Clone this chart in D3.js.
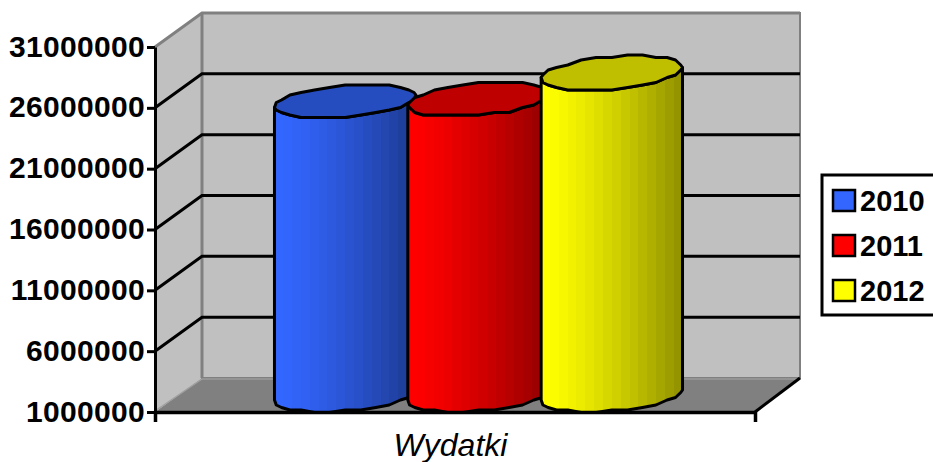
<!DOCTYPE html>
<html>
<head>
<meta charset="utf-8">
<script src="https://cdn.jsdelivr.net/npm/d3@7"></script>
<style>
    html, body { margin: 0; background: #fff; }
    svg { display: block; font-family: "Liberation Sans", Arial, sans-serif; }
</style>
</head>
<body>
<svg id="chart" width="933" height="462"></svg>
<script>
const categories = ['Wydatki'];
const years = ['2010', '2011', '2012'];
const wydatki = [25160000, 25300000, 27460000];
const yTicks = [1000000, 6000000, 11000000, 16000000, 21000000, 26000000, 31000000];
const baseColors = ['#3366ff', '#ff0000', '#ffff00'];

const WIDTH = 933, HEIGHT = 462;
const PLOT = {left: 155, right: 755, top: 47, bottom: 412};
const DEPTH = {x: 47, y: 34};

const svg = d3.select('#chart');
const defs = svg.append('defs');

const yScale = d3.scaleLinear()
    .domain([yTicks[0], yTicks[yTicks.length - 1]])
    .range([PLOT.bottom, PLOT.top]);

const xOuter = d3.scalePoint()
    .domain(categories)
    .range([PLOT.left, PLOT.right])
    .padding(0.5);

const xBar = d3.scaleBand()
    .domain(years)
    .range([xOuter('Wydatki') - 200, xOuter('Wydatki') + 200]);

// walls and floor
const poly = pts => 'M' + pts.map(p => p.join(',')).join('L') + 'Z';
const { left: L, right: R, top: T, bottom: B } = PLOT;

svg.append('path')
    .attr('d', poly([[L, T], [L + DEPTH.x, T - DEPTH.y], [L + DEPTH.x, B - DEPTH.y], [L, B]]))
    .attr('fill', '#c0c0c0');
svg.append('rect')
    .attr('x', L + DEPTH.x).attr('y', T - DEPTH.y)
    .attr('width', R - L - 2).attr('height', B - T)
    .attr('fill', '#c0c0c0')
    .attr('stroke', '#808080').attr('stroke-width', 2);
svg.append('path')
    .attr('d', poly([[L, B], [L + DEPTH.x, B - DEPTH.y], [R + DEPTH.x - 2, B - DEPTH.y], [R, B]]))
    .attr('fill', '#808080');

// grey edges of the box
const edge = (pts, w) => svg.append('path')
    .attr('d', 'M' + pts.map(p => p.join(',')).join('L'))
    .attr('fill', 'none').attr('stroke', '#808080').attr('stroke-width', w);
edge([[L, T], [L + DEPTH.x, T - DEPTH.y], [R + DEPTH.x - 2, T - DEPTH.y]], 3);
edge([[L + DEPTH.x, T - DEPTH.y], [L + DEPTH.x, B - DEPTH.y]], 3);
svg.append('path')
    .attr('d', `M${L},${B - 1}L${L + DEPTH.x},${B - DEPTH.y + 1}`)
    .attr('stroke', '#a0a0a0').attr('stroke-width', 1.5);
svg.append('path')
    .attr('d', `M${L + DEPTH.x},${B - DEPTH.y + 1}H${R + DEPTH.x - 2}`)
    .attr('stroke', '#a8a8a8').attr('stroke-width', 1);

// gridlines on the side wall and back wall
const gridTicks = yTicks.slice(1, -1);
svg.selectAll('.grid')
    .data(gridTicks)
    .join('path')
    .attr('class', 'grid')
    .attr('d', d => `M${L},${yScale(d)}L${L + DEPTH.x},${yScale(d) - DEPTH.y}H${R + DEPTH.x - 2}`)
    .attr('fill', 'none')
    .attr('stroke', '#000')
    .attr('stroke-width', 3);

// right floor edge
svg.append('path')
    .attr('d', `M${R},${B}L${R + DEPTH.x - 2},${B - DEPTH.y}`)
    .attr('stroke', '#000').attr('stroke-width', 3);

// columns
const rx = xBar.bandwidth() / 2;
const skew = DEPTH.x / 2;
const ry = DEPTH.y / 2;
const tStart = Math.PI + Math.atan(skew / rx);
const STEPS = 28;

// rim as a polygon, y snapped to a coarse grid to get the stepped outline
function rimPoint(cx, cy, t) {
    return [cx + rx * Math.cos(t) + skew * Math.sin(t),
            Math.round((cy - ry * Math.sin(t)) / 2.5) * 2.5];
}
const rimAngles = d3.range(STEPS + 1).map(i => tStart + i * 2 * Math.PI / STEPS);
const line = d3.line();

years.forEach((year, i) => {
    let base = d3.rgb(baseColors[i]);
    let grad = defs.append('linearGradient').attr('id', 'bar' + year);
    let bands = 16;
    d3.range(bands).forEach(k => {
        let f = 1 - 0.42 * Math.pow(k / (bands - 1), 1.3);
        let c = d3.rgb(base.r * f, base.g * f, base.b * f).formatHex();
        grad.append('stop').attr('offset', k / bands).attr('stop-color', c);
        grad.append('stop').attr('offset', (k + 1) / bands).attr('stop-color', c);
    });

    let cx = xBar(year) + rx + DEPTH.x / 2;
    let topY = yScale(wydatki[i]) - DEPTH.y / 2;
    let botY = yScale(yTicks[0]) - DEPTH.y / 2;

    let front = rimAngles.slice(0, STEPS / 2 + 1);
    let side = front.map(t => rimPoint(cx, botY, t))
        .concat(front.slice().reverse().map(t => rimPoint(cx, topY, t)));

    let g = svg.append('g').attr('class', 'column');
    g.append('path')
        .attr('d', line(side) + 'Z')
        .attr('fill', `url(#bar${year})`)
        .attr('stroke', '#000').attr('stroke-width', 3).attr('stroke-linejoin', 'round');
    g.append('path')
        .attr('d', line(rimAngles.map(t => rimPoint(cx, topY, t))) + 'Z')
        .attr('fill', d3.rgb(base.r * 0.75, base.g * 0.75, base.b * 0.75).formatHex())
        .attr('stroke', '#000').attr('stroke-width', 3).attr('stroke-linejoin', 'round');
});

// axes
const yAxis = d3.axisLeft(yScale)
    .tickValues(yTicks)
    .tickFormat(d3.format('d'))
    .tickSize(8)
    .tickSizeOuter(0)
    .tickPadding(2);
const yG = svg.append('g').attr('transform', `translate(${L},0)`).call(yAxis);
yG.selectAll('path,line').attr('stroke', '#000').attr('stroke-width', 3);
yG.selectAll('text')
    .attr('fill', '#000')
    .attr('font-family', '"Liberation Sans", Arial, sans-serif')
    .attr('font-size', 30).attr('font-weight', 'bold')
    .attr('letter-spacing', 0.3)
    .attr('dy', '0.3em');

const xAxis = d3.axisBottom(xOuter)
    .tickSize(0)
    .tickSizeOuter(10)
    .tickPadding(21);
const xG = svg.append('g').attr('transform', `translate(0,${B})`).call(xAxis);
xG.select('.domain').attr('stroke', '#000').attr('stroke-width', 3.5);
xG.selectAll('text')
    .attr('fill', '#000')
    .attr('dx', -5)
    .attr('font-family', '"Liberation Sans", Arial, sans-serif')
    .attr('font-size', 32).attr('font-style', 'italic');

// legend
const legend = svg.append('g').attr('transform', 'translate(822,175)');
legend.append('rect')
    .attr('width', 120).attr('height', 140)
    .attr('fill', '#fff').attr('stroke', '#000').attr('stroke-width', 3);
const legendY = d3.scalePoint().domain(years).range([26, 116]);
const items = legend.selectAll('.item')
    .data(years)
    .join('g')
    .attr('class', 'item')
    .attr('transform', d => `translate(0,${legendY(d)})`);
items.append('rect')
    .attr('x', 11).attr('y', -11)
    .attr('width', 22).attr('height', 21)
    .attr('fill', (d, i) => baseColors[i])
    .attr('stroke', '#000').attr('stroke-width', 2.5);
items.append('text')
    .attr('x', 38).attr('y', 10)
    .attr('font-size', 29).attr('font-weight', 'bold')
    .text(d => d);
</script>
</body>
</html>
